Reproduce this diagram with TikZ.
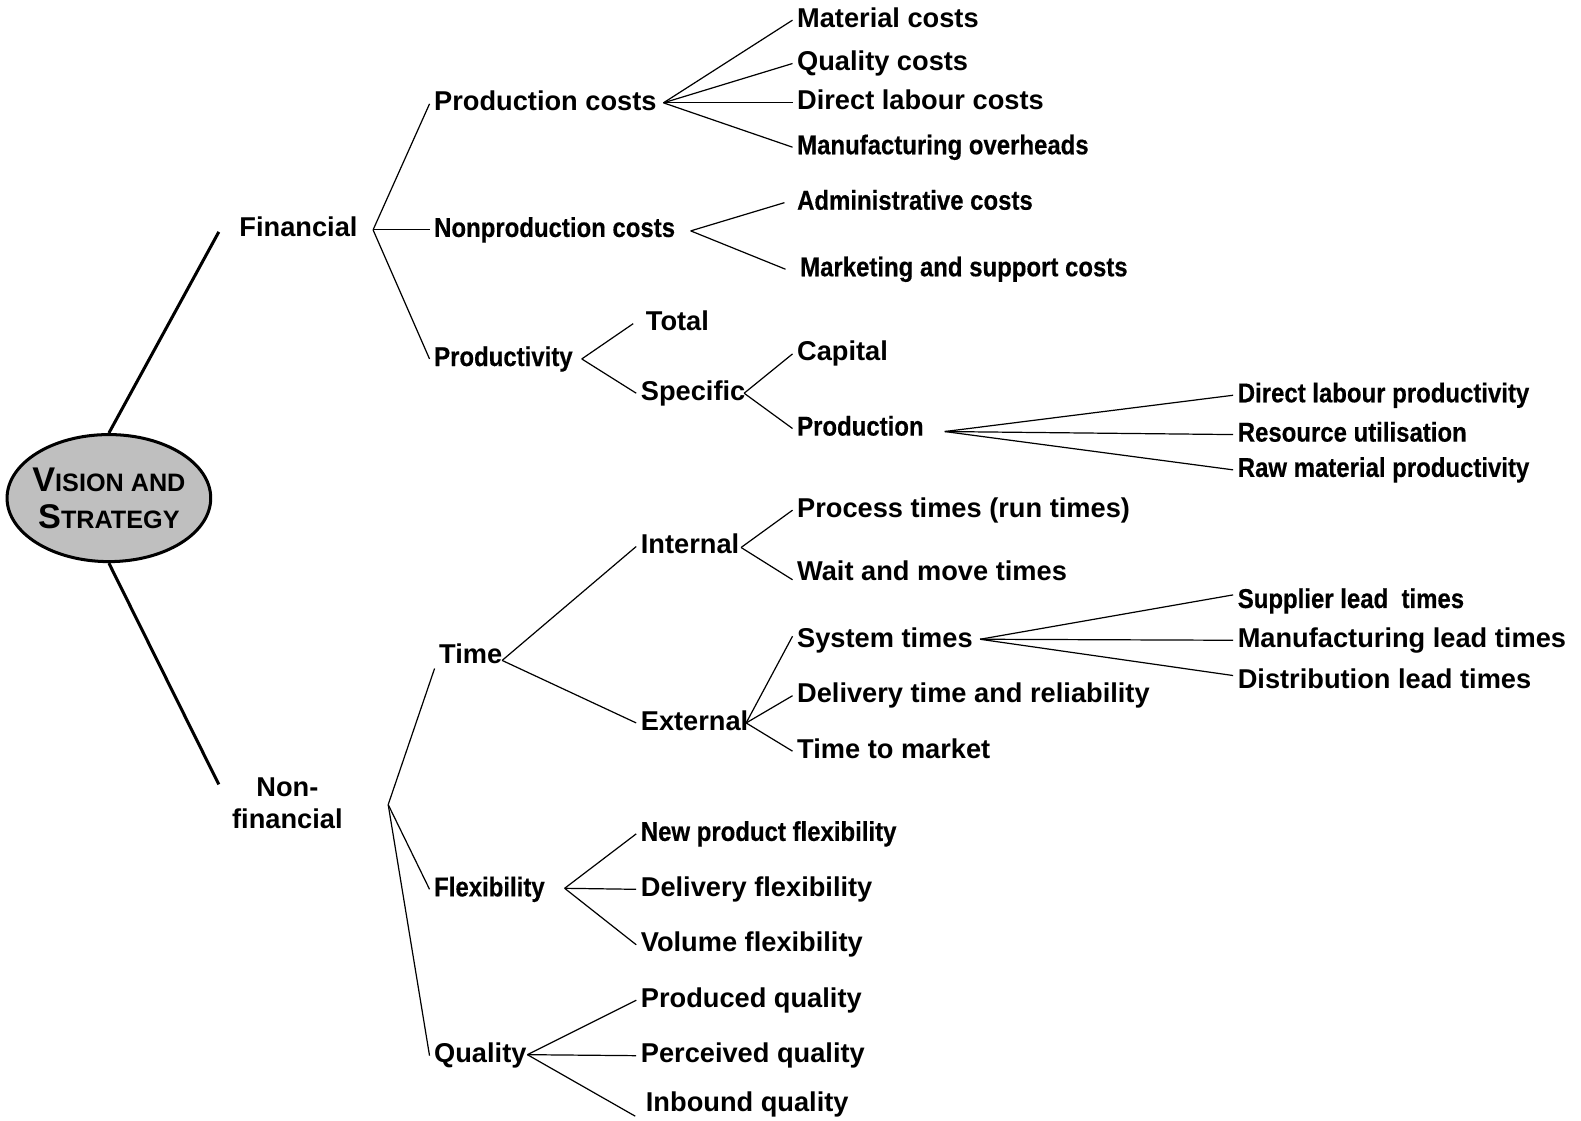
\documentclass[tikz,border=0pt]{standalone}
\usepackage{fontspec}
\setmainfont{Liberation Sans}
\newfontfamily\narrowfont[FakeStretch=0.88, BoldFeatures={FakeBold=0.4}]{Liberation Sans}
\usetikzlibrary{shapes.geometric}

\tikzset{every picture/.style={line width=0.6pt}}
\tikzset{
  txt/.style={anchor=west, inner sep=2pt, text height=10pt, text depth=3pt, yshift=-1.5pt,
    font=\fontsize{13.5}{15}\selectfont\bfseries},
  ntxt/.style={txt, font=\fontsize{13.5}{15}\selectfont\narrowfont\bfseries},
  cat/.style={align=center, inner sep=2pt, font=\fontsize{13.5}{16}\selectfont\bfseries},
  trunk/.style={line width=1.5pt}
}
\newcommand{\capletter}[1]{{\fontsize{17}{17}\selectfont #1}}

\begin{document}
\begin{tikzpicture}[x=0.5pt,y=0.5pt,yscale=-1,xscale=1]
\useasboundingbox (0,0) rectangle (1568,1111);

% Vision and strategy
\node [draw, ellipse, line width=1.5pt, fill=black!25, minimum width=101pt, minimum height=63pt,
  inner xsep=-6pt, inner ysep=0pt, align=center, font=\fontsize{12.5}{18.5}\selectfont\bfseries]
  (vs) at (108,494) {\capletter{V}ISION AND\\\capletter{S}TRATEGY};

% Text Node
\node [cat] (fin) at (296,225) {Financial};
\node [cat] (nonfin) at (285,797) {Non-\\financial};
\coordinate (fin-in) at (217,230);
\coordinate (nf-in) at (217,778);
\coordinate (fin-j) at (370,228);
\coordinate (nf-j) at (385,798);

% Connection
\draw [trunk] (vs.north) -- (fin-in);
\draw [trunk] (vs.south) -- (nf-in);

% Financial
\node [txt] (pc) at (426,100) {Production costs};
\node [ntxt] (npc) at (426,225) {Nonproduction costs};
\node [ntxt] (prod) at (426,353) {Productivity};
\draw (fin-j) -- (pc.west);
\draw (fin-j) -- (npc.west);
\draw (fin-j) -- (prod.west);

% Production costs
\node [txt] (mat) at (786,17) {Material costs};
\node [txt] (qual) at (786,60) {Quality costs};
\node [txt] (dlc) at (786,99) {Direct labour costs};
\node [ntxt] (moh) at (786,143) {Manufacturing overheads};
\coordinate (pc-j) at (658,102);
\draw (pc-j) -- (mat.west);
\draw (pc-j) -- (qual.west);
\draw (pc-j) -- (dlc.west);
\draw (pc-j) -- (moh.west);

% Nonproduction costs
\node [ntxt] (adm) at (786,198) {Administrative costs};
\node [ntxt] (mkt) at (789,264) {Marketing and support costs};
\coordinate (npc-j) at (685,229);
\draw (npc-j) -- ([xshift=-4pt]adm.west);
\draw (npc-j) -- ([xshift=-5pt]mkt.west);

% Productivity
\node [txt] (tot) at (636,318) {Total};
\node [txt] (spec) at (631,387) {Specific};
\coordinate (prod-j) at (577,356);
\draw (prod-j) -- ([xshift=-4pt]tot.west);
\draw (prod-j) -- (spec.west);

\node [txt] (cap) at (786,348) {Capital};
\node [ntxt] (pro) at (786,422) {Production};
\coordinate (spec-j) at (738,390);
\draw (spec-j) -- (cap.west);
\draw (spec-j) -- (pro.west);

\node [ntxt] (dlp) at (1223,389) {Direct labour productivity};
\node [ntxt] (res) at (1223,428) {Resource utilisation};
\node [ntxt] (raw) at (1223,463) {Raw material productivity};
\coordinate (pro-j) at (937,428);
\draw (pro-j) -- (dlp.west);
\draw (pro-j) -- (res.west);
\draw (pro-j) -- (raw.west);

% Non-financial
\node [txt] (time) at (431,648) {Time};
\node [ntxt] (flex) at (426,879) {Flexibility};
\node [txt] (qly) at (426,1044) {Quality};
\draw (nf-j) -- ([yshift=6pt]time.west);
\draw (nf-j) -- (flex.west);
\draw (nf-j) -- (qly.west);

% Time
\node [txt] (int) at (631,539) {Internal};
\node [txt] (ext) at (631,714) {External};
\coordinate (time-j) at (498,655);
\draw (time-j) -- (int.west);
\draw (time-j) -- (ext.west);

\node [txt] (proc) at (786,503) {Process times (run times)};
\node [txt] (wait) at (786,566) {Wait and move times};
\coordinate (int-j) at (735,543);
\draw (int-j) -- (proc.west);
\draw (int-j) -- ([yshift=3pt]wait.west);

\node [txt] (sys) at (786,632) {System times};
\node [txt] (del) at (786,687) {Delivery time and reliability};
\node [txt] (ttm) at (786,742) {Time to market};
\coordinate (ext-j) at (740,717);
\draw (ext-j) -- ([yshift=-2pt]sys.west);
\draw (ext-j) -- (del.west);
\draw (ext-j) -- (ttm.west);

\node [ntxt] (sup) at (1223,593) {Supplier lead\ \ times};
\node [txt] (mlt) at (1223,632) {Manufacturing lead times};
\node [txt] (dlt) at (1223,673) {Distribution lead times};
\coordinate (sys-j) at (972,634);
\draw (sys-j) -- ([yshift=-3pt]sup.west);
\draw (sys-j) -- (mlt.west);
\draw (sys-j) -- ([yshift=-3pt]dlt.west);

% Flexibility
\node [ntxt] (npf) at (631,824) {New product flexibility};
\node [txt] (dfl) at (631,879) {Delivery flexibility};
\node [txt] (vfl) at (631,934) {Volume flexibility};
\coordinate (flex-j) at (560,881);
\draw (flex-j) -- (npf.west);
\draw (flex-j) -- (dfl.west);
\draw (flex-j) -- (vfl.west);

% Quality
\node [txt] (pq) at (631,989) {Produced quality};
\node [txt] (perq) at (631,1044) {Perceived quality};
\node [txt] (inq) at (636,1092) {Inbound quality};
\coordinate (qly-j) at (523,1046);
\draw (qly-j) -- (pq.west);
\draw (qly-j) -- (perq.west);
\draw (qly-j) -- ([shift={(-3pt,6pt)}]inq.west);

\end{tikzpicture}
\end{document}
